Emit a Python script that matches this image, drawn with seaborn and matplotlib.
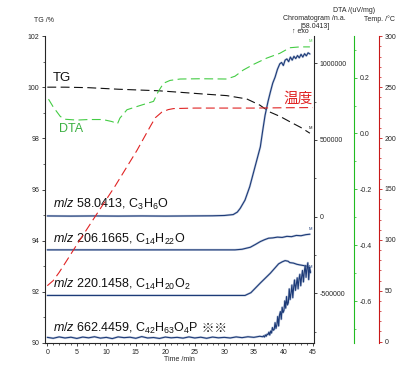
import numpy as np
import pandas as pd
import matplotlib
matplotlib.use("Agg")
import matplotlib.pyplot as plt
import seaborn as sns
from matplotlib.ticker import MultipleLocator, FuncFormatter

#------------- DATA -------------

# TG /%
tg_time = [0, 3, 7, 12, 18.8, 22.5, 26, 30.4, 33.8, 36, 37.7, 39.5, 41.1, 43, 44.5]
tg_pct = [100.0, 100.0, 99.98, 99.92, 99.86, 99.80, 99.74, 99.67, 99.54, 99.30, 99.03, 98.85, 98.65, 98.42, 98.2]

# DTA /(uV/mg)
dta_time = [0.2, 1.0, 2.2, 3.0, 5, 7, 9.4, 10.9, 11.6, 11.9, 12.3, 13.5, 15.7, 18.0, 18.8, 19.7,
            20.8, 22.5, 26, 30.4, 31.8, 33.2, 35, 37.2, 39.4, 41.1, 42.8, 44.5]
dta_val = [0.123, 0.095, 0.061, 0.051, 0.048, 0.050, 0.050, 0.043, 0.038, 0.035, 0.055, 0.085, 0.100,
           0.115, 0.15, 0.18, 0.19, 0.195, 0.196, 0.195, 0.205, 0.227, 0.248, 0.27, 0.287, 0.307, 0.31, 0.31]

# Temp. /degC
temp_time = [0, 1, 2, 3, 5.3, 8.9, 11.5, 15.2, 17.5, 18.3, 19.4, 20.5, 21.4, 25, 30, 35, 40, 45]
temp_val = [55, 60, 68, 77, 98, 130, 153, 188, 212, 220, 225.5, 228, 229, 229.5, 229.5, 229.5, 229.8, 230]

# chromatograms (offset traces, n.a.)
ms58_time = [0, 4, 8, 12, 16, 20, 24, 28, 30, 31.5, 32.2, 32.7, 33.5, 34.3, 35.2, 36.1, 36.5, 36.9,
             37.4, 37.8, 38.2, 38.6, 39.0, 39.4, 39.7, 40.0, 40.3, 40.6, 40.9, 41.2, 41.5, 41.8, 42.1,
             42.4, 42.7, 43.0, 43.3, 43.6, 43.9, 44.2, 44.5]
ms58_val = [5000, 4000, 5000, 4000, 5000, 4000, 5000, 6000, 8000, 14000, 30000, 55000, 108000, 195000,
            325000, 455000, 560000, 660000, 750000, 812000, 870000, 909000, 960000, 996000, 1005000,
            985000, 1020000, 1028000, 1010000, 1040000, 1020000, 1045000, 1030000, 1050000, 1035000,
            1058000, 1040000, 1062000, 1048000, 1068000, 1060000]

ms206_time = [0, 10, 20, 30, 31.8, 33.0, 34.4, 35.3, 36.1, 36.8, 37.5, 38.2, 39.0, 39.8, 40.6, 41.4,
              42.2, 43.0, 43.8, 44.5]
ms206_val = [-216000, -216000, -216000, -216000, -216000, -212000, -199000, -180000, -162000, -150000,
             -140000, -138000, -133000, -135000, -128000, -130000, -122000, -124000, -117000, -114000]

ms220_time = [0, 10, 20, 30, 33.5, 34.5, 36.1, 37.8, 39.2, 39.8, 40.3, 40.8, 41.1, 41.7, 42.3, 42.8,
              43.4, 44.0, 44.3, 44.6]
ms220_val = [-513000, -513000, -513000, -513000, -513000, -495000, -432000, -368000, -307000, -294000,
             -286000, -290000, -299000, -302000, -310000, -314000, -318000, -322000, -330000, -360000]

ms662_time = [0, 1, 2, 3, 4, 5, 6, 7, 8, 9, 10, 11, 12, 13, 14, 15, 16, 17, 18, 19, 20, 21, 22, 23, 24,
              25, 26, 27, 28, 29, 30, 31, 32, 33, 34, 35, 36,
              36.5, 36.65, 36.8, 36.95, 37.1, 37.25, 37.4, 37.55, 37.7, 37.85,
              38.0, 38.15, 38.3, 38.45, 38.6, 38.75, 38.9, 39.05, 39.2, 39.35,
              39.5, 39.65, 39.8, 39.95, 40.1, 40.25, 40.4, 40.55, 40.7, 40.85,
              41.0, 41.15, 41.3, 41.45, 41.6, 41.75, 41.9, 42.05, 42.2, 42.35,
              42.5, 42.65, 42.8, 42.95, 43.1, 43.25, 43.4, 43.55, 43.7, 43.85,
              44.0, 44.15, 44.3, 44.45, 44.6]
ms662_val = [-786000, -792000, -783000, -790000, -785000, -793000, -784000, -789000, -782000, -791000,
             -786000, -794000, -783000, -788000, -785000, -792000, -781000, -790000, -787000, -793000,
             -784000, -789000, -786000, -791000, -783000, -790000, -785000, -792000, -784000, -789000,
             -786000, -790000, -783000, -788000, -782000, -786000, -779000,
             -782000, -776000, -784000, -770000, -779000, -765000, -768000, -752000, -771000, -745000,
             -758000, -722000, -740000, -735000, -690000, -728000, -705000, -650000, -712000, -640000,
             -618000, -668000, -590000, -625000, -612000, -548000, -596000, -520000, -575000, -560000,
             -470000, -540000, -500000, -445000, -528000, -460000, -412000, -480000, -440000, -398000,
             -470000, -405000, -375000, -450000, -392000, -350000, -425000, -360000, -318000, -395000,
             -335000, -300000, -410000, -330000, -365000]

ms_labels = [r"$m/z$ 58.0413, C$_3$H$_6$O",
             r"$m/z$ 206.1665, C$_{14}$H$_{22}$O",
             r"$m/z$ 220.1458, C$_{14}$H$_{20}$O$_2$",
             r"$m/z$ 662.4459, C$_{42}$H$_{63}$O$_4$P"]
ms_label_y = [95.40, 94.03, 92.27, 90.55]   # in TG units

#------------- STYLE -------------
sns.set_style("ticks")
plt.rcParams['font.family'] = ['Liberation Sans', 'Noto Sans CJK JP', 'DejaVu Sans']
plt.rcParams['mathtext.fontset'] = 'custom'
plt.rcParams['mathtext.rm'] = 'Liberation Sans'
plt.rcParams['mathtext.it'] = 'Liberation Sans:italic'

c_tg = '#111111'
c_dta = '#44cc44'
c_dta_ax = '#22bb22'
c_temp = '#e02424'
c_temp_ax = '#c81818'
c_ms = '#1d3b78'
dash = (0, (8, 4))

fig = plt.figure(figsize=(4.1, 3.79), dpi=100)
ax = fig.add_axes([0.1098, 0.095, 0.6561, 0.810])
ax_ms = ax.twinx()
ax_dta = ax.twinx()
ax_temp = ax.twinx()

#------------- CURVES -------------
sns.lineplot(x=tg_time, y=tg_pct, ax=ax, color=c_tg, lw=0.8, linestyle=dash)
sns.lineplot(x=dta_time, y=dta_val, ax=ax_dta, color=c_dta, lw=0.8, linestyle=dash)
sns.lineplot(x=temp_time, y=temp_val, ax=ax_temp, color=c_temp, lw=0.8, linestyle=dash)

for t, v in [(ms58_time, ms58_val), (ms206_time, ms206_val), (ms220_time, ms220_val), (ms662_time, ms662_val)]:
    sns.lineplot(x=t, y=v, ax=ax_ms, color='#8a9cc0', lw=1.6, alpha=0.5)
    sns.lineplot(x=t, y=v, ax=ax_ms, color=c_ms, lw=0.8)

# tiny end markers
for a, t, v, c in [(ax, tg_time, tg_pct, c_tg), (ax_dta, dta_time, dta_val, c_dta),
                   (ax_ms, ms206_time, ms206_val, c_ms), (ax_ms, ms220_time, ms220_val, c_ms)]:
    a.annotate("M", xy=(t[-1], v[-1]), xytext=(0, 2.5), textcoords='offset points',
               fontsize=3, ha='center', va='bottom', color=c)

#------------- AXES -------------
ax.set_xlim(-0.39, 45.2)
ax.set_ylim(90, 102)
ax_ms.set_ylim(-822700, 1177300)
ax_dta.set_ylim(-0.75, 0.349)
ax_temp.set_ylim(-1.3, 300.3)

ax.xaxis.set_major_locator(MultipleLocator(5))
ax.xaxis.set_minor_locator(MultipleLocator(1))
ax.yaxis.set_major_locator(MultipleLocator(2))
ax.yaxis.set_minor_locator(MultipleLocator(1))
ax_ms.yaxis.set_major_locator(MultipleLocator(500000))
ax_ms.yaxis.set_minor_locator(MultipleLocator(250000))
ax_ms.yaxis.set_major_formatter(FuncFormatter(lambda v, p: f"{v:.0f}"))
ax_dta.yaxis.set_major_locator(MultipleLocator(0.2))
ax_dta.yaxis.set_minor_locator(MultipleLocator(0.1))
ax_dta.yaxis.set_major_formatter(FuncFormatter(lambda v, p: f"{round(v, 1) + 0.0:.1f}"))
ax_temp.yaxis.set_major_locator(MultipleLocator(50))
ax_temp.yaxis.set_minor_locator(MultipleLocator(10))

for a in [ax, ax_ms, ax_dta, ax_temp]:
    a.tick_params(which='major', length=2.5, width=0.6, labelsize=5, pad=1.5, direction='out')
    a.tick_params(which='minor', length=1.4, width=0.5, direction='out')
    a.set_xlabel('')
    a.set_ylabel('')
    for s in a.spines.values():
        s.set_linewidth(0.8)

ax.spines['top'].set_visible(False)
ax.spines['right'].set_visible(False)
for a in [ax_ms, ax_dta, ax_temp]:
    for s in ['left', 'top', 'bottom']:
        a.spines[s].set_visible(False)

ax_dta.spines['right'].set_position(('axes', 1.149))
ax_dta.spines['right'].set_color(c_dta_ax)
ax_dta.tick_params(which='both', color=c_dta_ax)
ax_temp.spines['right'].set_position(('axes', 1.2416))
ax_temp.spines['right'].set_color(c_temp_ax)
ax_temp.tick_params(which='both', color=c_temp_ax)

ax.set_xlabel("Time /min", fontsize=5, labelpad=0.5)

#------------- TEXT -------------
ax.text(0.9, 100.36, "TG", fontsize=9.5, color='#111111', va='center', ha='left')
ax.text(1.9, 98.35, "DTA", fontsize=9, color='#3cb043', va='center', ha='left')
ax.text(39.95, 99.54, "温度", fontsize=10.5, color=c_temp, va='center', ha='left',
        family=['Noto Sans CJK JP'])

lab = None
for s, y in zip(ms_labels, ms_label_y):
    lab = ax.text(1.0, y, s, fontsize=9, va='center', ha='left', color='#111111')
ax.annotate(" ※※", xy=(1, 0.5), xycoords=lab, va='center', ha='left', fontsize=9,
            family=['Noto Sans CJK JP'], color='#111111')

fig.text(44.5 / 410, 1 - 20 / 379, "TG /%", ha='center', va='center', fontsize=5)
fig.text(314.5 / 410, 1 - 19 / 379, "Chromatogram /n.a.", ha='center', va='center', fontsize=5)
fig.text(315 / 410, 1 - 26 / 379, "[58.0413]", ha='center', va='center', fontsize=5)
fig.text(300 / 410, 1 - 31.5 / 379, "↑ exo", ha='center', va='center', fontsize=5)
fig.text(354.5 / 410, 1 - 11 / 379, "DTA /(uV/mg)", ha='center', va='center', fontsize=5)
fig.text(379 / 410, 1 - 19 / 379, "Temp. /°C", ha='center', va='center', fontsize=5)

fig.savefig("out.png", dpi=100)
